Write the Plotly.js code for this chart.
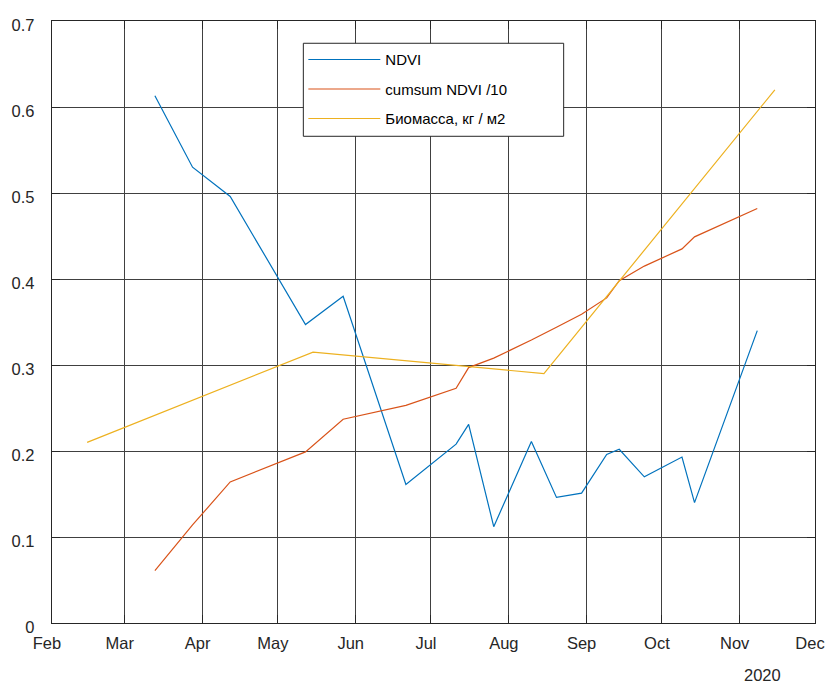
<!DOCTYPE html>
<html>
<head>
<meta charset="utf-8">
<script src="https://cdn.plot.ly/plotly-3.0.1.min.js"></script>
<style>html,body{margin:0;padding:0;background:#fff;}#chart{width:826px;height:683px;}</style>
</head>
<body>
<div id="chart"></div>
<script>
// NDVI observation dates and values
const ndviDates = ['2020-03-13','2020-03-28','2020-04-12','2020-05-12','2020-05-27','2020-06-21',
  '2020-07-11','2020-07-16','2020-07-26','2020-08-10','2020-08-20','2020-08-30',
  '2020-09-09','2020-09-14','2020-09-24','2020-10-09','2020-10-14','2020-11-08'];
const ndviValues = [0.613, 0.530, 0.496, 0.347, 0.380, 0.161,
  0.208, 0.231, 0.112, 0.211, 0.146, 0.151,
  0.196, 0.202, 0.170, 0.193, 0.140, 0.340];
// cumulative NDVI / 10
const cumsumValues = [0.061, 0.114, 0.164, 0.199, 0.237, 0.253,
  0.273, 0.297, 0.308, 0.329, 0.344, 0.359,
  0.378, 0.398, 0.415, 0.435, 0.449, 0.482];
// biomass
const bioDates = ['2020-02-15','2020-05-15','2020-08-15','2020-11-15'];
const bioValues = [0.210, 0.315, 0.290, 0.620];

const seriesNames = ['NDVI', 'cumsum NDVI /10', 'Биомасса, кг / м2'];
const monthTicks = ['2020-02-01','2020-03-01','2020-04-01','2020-05-01','2020-06-01','2020-07-01',
  '2020-08-01','2020-09-01','2020-10-01','2020-11-01','2020-12-01'];
const monthLabels = ['Feb','Mar','Apr','May','Jun','Jul','Aug','Sep','Oct','Nov','Dec'];
const yTicks = [0, 0.1, 0.2, 0.3, 0.4, 0.5, 0.6, 0.7];
const yLabels = ['0','0.1','0.2','0.3','0.4','0.5','0.6','0.7'];

const FONT = 'Liberation Sans, Arial, Helvetica, sans-serif';
const TXT = '#262626';

const traces = [
  {x: ndviDates, y: ndviValues, name: seriesNames[0], type: 'scatter', mode: 'lines',
   line: {color: '#0072BD', width: 1.2}, legendgroup: 'a'},
  {x: ndviDates, y: cumsumValues, name: seriesNames[1], type: 'scatter', mode: 'lines',
   line: {color: '#D95319', width: 1.2}, legendgroup: 'b'},
  {x: bioDates, y: bioValues, name: seriesNames[2], type: 'scatter', mode: 'lines',
   line: {color: '#EDB120', width: 1.2}, legendgroup: 'c'}
];

const layout = {
  width: 826, height: 683,
  margin: {l: 52, r: 11, t: 21, b: 60},
  paper_bgcolor: '#fff', plot_bgcolor: '#fff',
  font: {family: FONT, color: TXT, size: 16.5},
  showlegend: true,
  legend: {
    x: 0.3294, y: 0.963, xanchor: 'left', yanchor: 'top',
    bgcolor: 'rgba(0,0,0,0)', borderwidth: 0,
    font: {family: FONT, size: 15, color: '#000'},
    itemwidth: 72, tracegroupgap: 7
  },
  shapes: [
    {type: 'rect', xref: 'paper', yref: 'paper', layer: 'above',
     x0: 0.3294, x1: 0.6706, y0: 0.8085, y1: 0.963,
     fillcolor: '#fff', line: {color: TXT, width: 1}}
  ],
  xaxis: {
    type: 'date', range: ['2020-02-01', '2020-12-01'],
    tickmode: 'array', tickvals: monthTicks, ticktext: monthLabels,
    ticks: 'inside', ticklen: 8, tickcolor: TXT, tickwidth: 1,
    showgrid: true, gridcolor: '#404040', gridwidth: 1,
    showline: true, linecolor: TXT, linewidth: 1.3, mirror: 'ticks',
    zeroline: false, tickfont: {size: 16.5, color: TXT},
    ticklabelshift: -5, ticklabelstandoff: 5
  },
  yaxis: {
    range: [0, 0.7], tickmode: 'array', tickvals: yTicks, ticktext: yLabels,
    ticks: 'inside', ticklen: 8, tickcolor: TXT, tickwidth: 1,
    showgrid: true, gridcolor: '#404040', gridwidth: 1,
    showline: true, linecolor: TXT, linewidth: 1.3, mirror: 'ticks',
    zeroline: false, tickfont: {size: 16.5, color: TXT},
    ticklabelshift: 4, ticklabelstandoff: 13
  },
  annotations: [
    {text: '2020', xref: 'paper', yref: 'paper', x: 0.931, y: -0.0864,
     xanchor: 'center', yanchor: 'middle', showarrow: false,
     font: {family: FONT, size: 16.5, color: TXT}}
  ]
};

Plotly.newPlot('chart', traces, layout, {displayModeBar: false, staticPlot: true});
</script>
</body>
</html>
